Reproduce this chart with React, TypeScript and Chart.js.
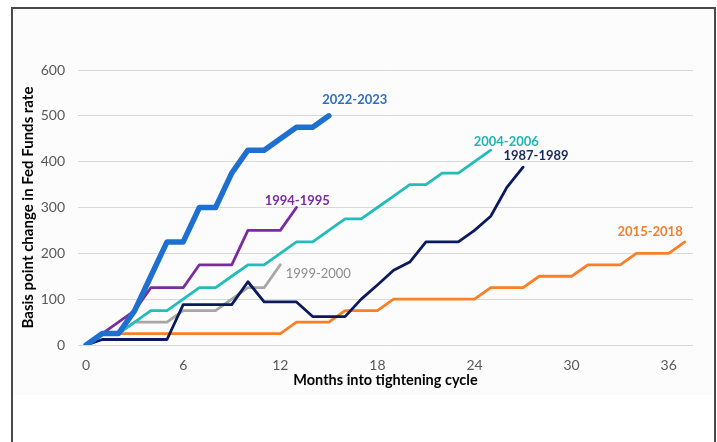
import React, { useEffect, useRef } from "react";
import { Chart, registerables } from "chart.js";

Chart.register(...registerables);

const months = [0, 1, 2, 3, 4, 5, 6, 7, 8, 9, 10, 11, 12, 13, 14, 15, 16, 17, 18, 19, 20, 21, 22, 23, 24, 25, 26, 27, 28, 29, 30, 31, 32, 33, 34, 35, 36, 37];
const xTickLabels = [0, 6, 12, 18, 24, 30, 36];
const yTicks = [0, 100, 200, 300, 400, 500, 600];

const s2022 = [0, 25, 25, 75, 150, 225, 225, 300, 300, 375, 425, 425, 450, 475, 475, 500];
const s1994 = [0, 25, 50, 75, 125, 125, 125, 175, 175, 175, 250, 250, 250, 300];
const s2004 = [0, 25, 25, 50, 75, 75, 100, 125, 125, 150, 175, 175, 200, 225, 225, 250, 275, 275, 300, 325, 350, 350, 375, 375, 400, 425];
const s1999 = [0, 25, 25, 50, 50, 50, 75, 75, 75, 100, 125, 125, 175];
const s1987 = [0, 12, 12, 12, 12, 12, 88, 88, 88, 88, 138, 94, 94, 94, 62, 62, 62, 100, 131, 163, 181, 225, 225, 225, 250, 281, 344, 388];
const s2015 = [0, 25, 25, 25, 25, 25, 25, 25, 25, 25, 25, 25, 25, 50, 50, 50, 75, 75, 75, 100, 100, 100, 100, 100, 100, 125, 125, 125, 150, 150, 150, 175, 175, 175, 200, 200, 200, 225];

const seriesNames = ["2022-2023", "1994-1995", "1987-1989", "2004-2006", "1999-2000", "2015-2018"];

const FONT = "Lato, 'Open Sans', sans-serif";

// label anchors in data units (month, bp) – text placement only
const labelSpots: Record<string, { x: number; y: number; color: string; weight: string }> = {
  "2022-2023": { x: 16.6, y: 534, color: "#2E6FC4", weight: "bold" },
  "1994-1995": { x: 13.05, y: 315, color: "#7A2BA0", weight: "bold" },
  "1999-2000": { x: 14.35, y: 155, color: "#8C8C8C", weight: "normal" },
  "2004-2006": { x: 25.96, y: 444, color: "#1FB5B2", weight: "bold" },
  "1987-1989": { x: 27.8, y: 412, color: "#1A2A5E", weight: "bold" },
  "2015-2018": { x: 34.85, y: 247, color: "#F07E2E", weight: "bold" },
};

const seriesLabelPlugin = {
  id: "seriesLabels",
  afterDatasetsDraw(chart: any) {
    const { ctx, scales } = chart;
    ctx.save();
    ctx.textAlign = "center";
    ctx.textBaseline = "middle";
    for (const name of Object.keys(labelSpots)) {
      const s = labelSpots[name];
      const px = scales.x.getPixelForValue(s.x);
      const py = scales.y.getPixelForValue(s.y);
      ctx.font = `${s.weight} 13px ${FONT}`;
      ctx.fillStyle = s.color;
      ctx.fillText(name, px, py);
    }
    ctx.restore();
  },
};

export default function App() {
  const ref = useRef<HTMLCanvasElement | null>(null);
  useEffect(() => {
    if (!ref.current) return;
    const mk = (data: number[], color: string, width: number) => ({
      data,
      borderColor: color,
      backgroundColor: color,
      borderWidth: width,
      pointRadius: 0,
      tension: 0,
      borderCapStyle: "round" as const,
      borderJoinStyle: "round" as const,
      fill: false,
    });
    const chart = new Chart(ref.current, {
      type: "line",
      data: {
        labels: months.map(String),
        datasets: [
          { label: seriesNames[0], ...mk(s2022, "#1F6FD0", 5.5) },
          { label: seriesNames[1], ...mk(s1994, "#7A2BA0", 2.8) },
          { label: seriesNames[2], ...mk(s1987, "#0B1A5C", 2.8) },
          { label: seriesNames[3], ...mk(s2004, "#22BDBA", 2.8) },
          { label: seriesNames[4], ...mk(s1999, "#A6A6A6", 2.8) },
          { label: seriesNames[5], ...mk(s2015, "#FA7F26", 2.8) },
        ],
      },
      options: {
        responsive: false,
        animation: false,
        events: [],
        layout: { padding: { top: 70, right: 24, bottom: 47, left: 0 } },
        plugins: { legend: { display: false }, tooltip: { enabled: false } },
        scales: {
          x: {
            type: "category",
            offset: true,
            grid: { display: false, drawTicks: false },
            border: { display: false },
            ticks: {
              autoSkip: false,
              maxRotation: 0,
              padding: 12,
              color: "#595959",
              font: { family: FONT, size: 14 },
              callback: (_v: any, i: number) => (xTickLabels.includes(months[i]) ? String(months[i]) : ""),
            },
            title: {
              display: true,
              text: "Months into tightening cycle",
              color: "#000000",
              font: { family: FONT, size: 14.5, weight: "bold" },
              padding: { top: 0, bottom: 6 },
            },
            afterFit: (scale: any) => {
              scale.height = 50;
            },
          },
          y: {
            min: 0,
            max: 600,
            grid: { color: "#D9D9D9", lineWidth: 1, drawTicks: false },
            border: { display: false },
            afterBuildTicks: (scale: any) => {
              scale.ticks = yTicks.map((v) => ({ value: v }));
            },
            ticks: {
              padding: 13,
              color: "#595959",
              font: { family: FONT, size: 14 },
            },
            title: {
              display: true,
              text: "Basis point change in Fed Funds rate",
              color: "#000000",
              font: { family: FONT, size: 15, weight: "bold" },
              padding: { top: 19, bottom: 0 },
            },
            afterFit: (scale: any) => {
              scale.width = 78;
            },
          },
        },
      },
      plugins: [seriesLabelPlugin],
    });
    return () => chart.destroy();
  }, []);

  return (
    <div style={{ position: "fixed", left: 0, top: 0, width: 717, height: 442, background: "#ffffff" }}>
      <div
        style={{
          position: "absolute",
          left: 12,
          top: 8,
          width: 700,
          height: 387,
          background: "#FCFCFC",
        }}
      />
      <canvas ref={ref} width={717} height={442} style={{ position: "absolute", left: 0, top: 0 }} />
      <div
        style={{
          position: "absolute",
          left: 11,
          top: 7,
          width: 701,
          height: 440,
          borderLeft: "2px solid #4A4A4A",
          borderTop: "2px solid #4A4A4A",
          borderRight: "2px solid #4A4A4A",
          pointerEvents: "none",
        }}
      />
    </div>
  );
}
